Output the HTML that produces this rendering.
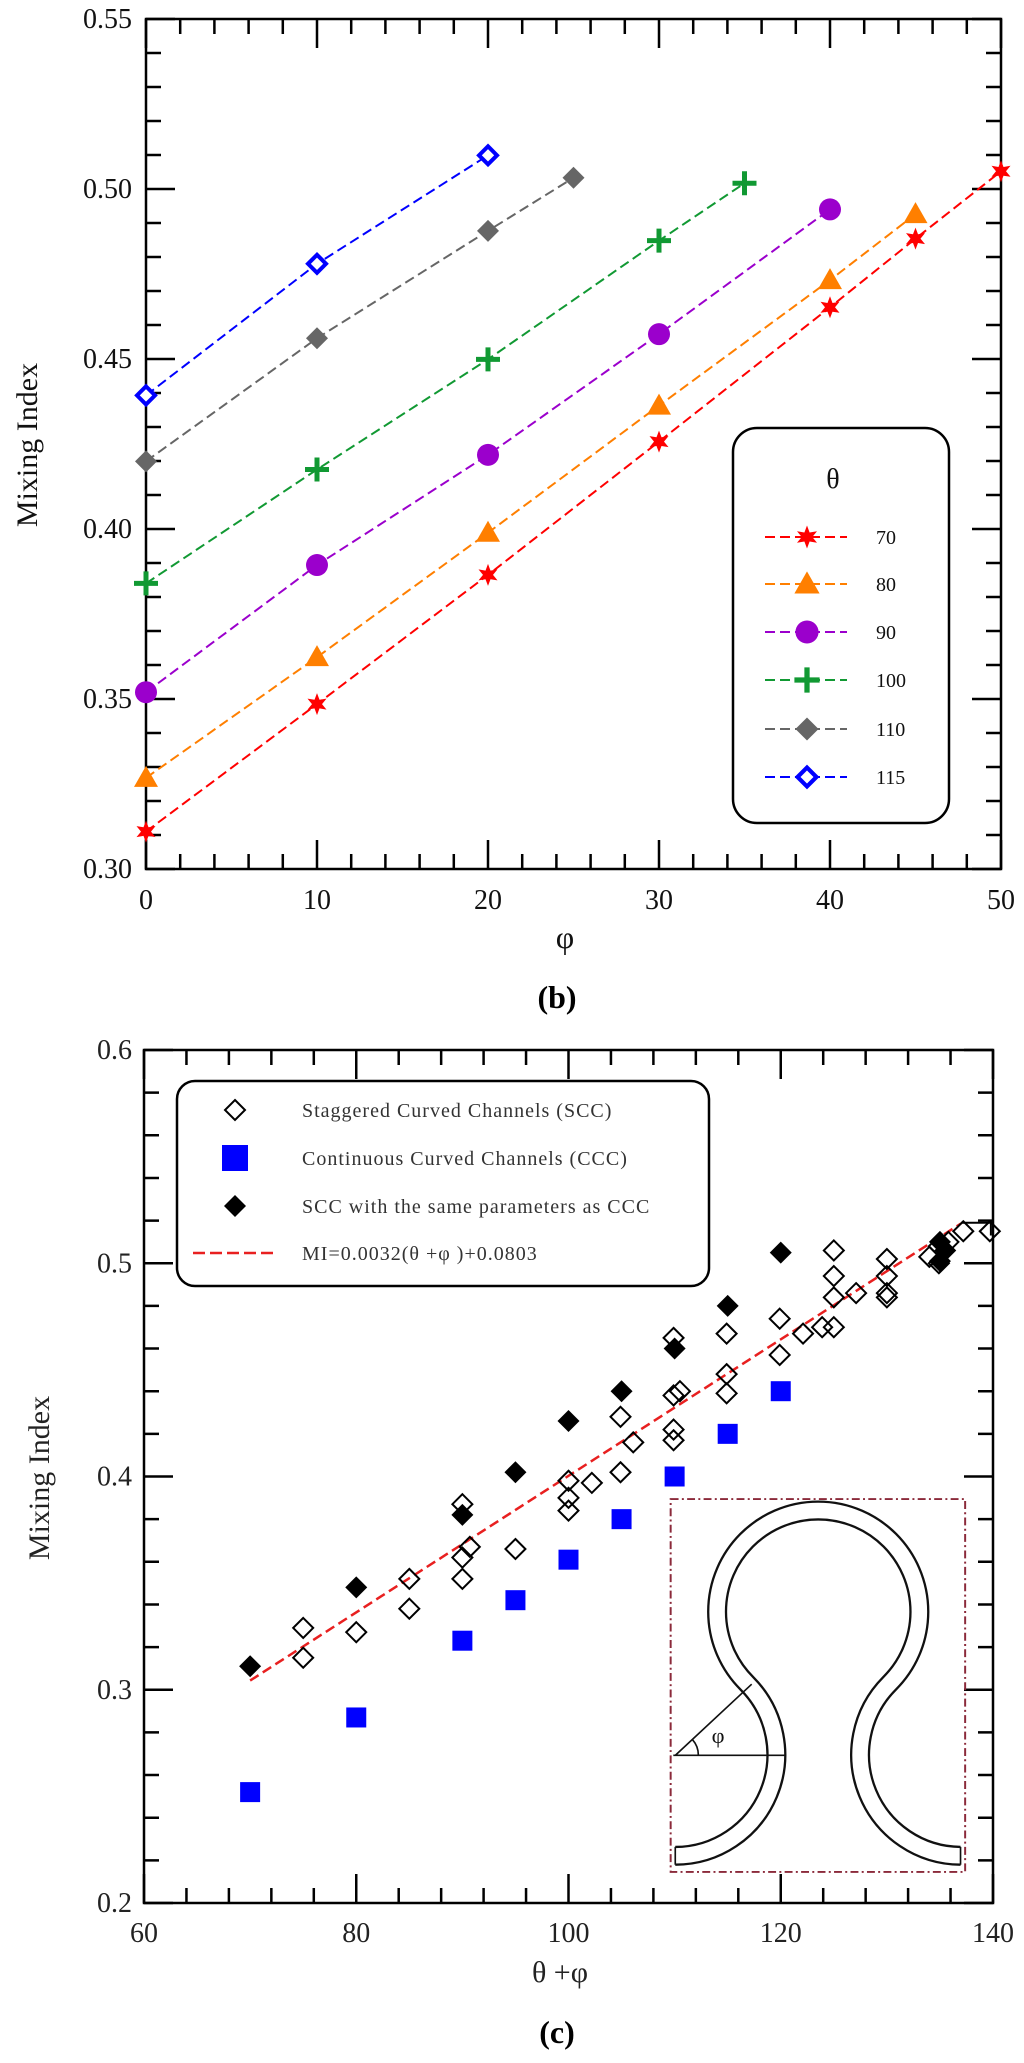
<!DOCTYPE html>
<html><head><meta charset="utf-8"><style>
html,body{margin:0;padding:0;background:#fff;}
svg{display:block;font-family:"Liberation Serif",serif;}
</style></head><body>
<svg id="svg" width="1024" height="2063" viewBox="0 0 1024 2063" xmlns="http://www.w3.org/2000/svg">
<g id="chartB"></g>
<g id="chartC"></g>
</svg>
<script>
// ---- Chart (b) data ----
const phiB = [0,10,20,30,40,45,50];
const s70 = [0.311,0.3485,0.3865,0.4257,0.4652,0.4854,0.5052];
const phi80 = [0,10,20,30,40,45];
const s80 = [0.3268,0.3623,0.3989,0.4363,0.4732,0.4926];
const phi90 = [0,10,20,30,40];
const s90 = [0.352,0.3894,0.4218,0.4573,0.494];
const phi100 = [0,10,20,30,35];
const s100 = [0.384,0.4175,0.4499,0.4848,0.5017];
const phi110 = [0,10,20,25];
const s110 = [0.4199,0.4561,0.4877,0.5033];
const phi115 = [0,10,20];
const s115 = [0.4393,0.478,0.5099];
const xTicksB = [0,10,20,30,40,50];
const yTicksB = ["0.30","0.35","0.40","0.45","0.50","0.55"];
const legendB = ["70","80","90","100","110","115"];

// ---- Chart (c) data ----
const sccX = [75,75,80,85,85,90,90,90,90.7,95,100,100,100,102.2,104.9,104.9,106.1,109.9,109.9,110.5,109.9,109.9,114.9,114.9,114.9,119.9,119.9,122.1,123.9,125,125,125,125,127.1,130,130,130,130,134,134.9,135.8,137.2,139.7,134.9];
const sccY = [0.329,0.315,0.327,0.352,0.338,0.387,0.362,0.352,0.367,0.366,0.398,0.390,0.384,0.397,0.428,0.402,0.416,0.465,0.438,0.440,0.422,0.417,0.467,0.448,0.439,0.474,0.457,0.467,0.470,0.506,0.494,0.484,0.470,0.486,0.502,0.494,0.486,0.484,0.503,0.508,0.510,0.515,0.515,0.500];
const cccX = [70,80,90,95,100,105,110,115,120];
const cccY = [0.252,0.287,0.323,0.342,0.361,0.380,0.400,0.420,0.440];
const sameX = [70,80,90,95,100,105,110,115,120,135,135,135.5];
const sameY = [0.311,0.348,0.382,0.402,0.426,0.440,0.460,0.480,0.505,0.510,0.501,0.506];
const fitSlope = 0.0032, fitIntercept = 0.0803, fitRange = [70,137];
const xTicksC = [60,80,100,120,140];
const yTicksC = ["0.2","0.3","0.4","0.5","0.6"];
const legendC = ["Staggered Curved Channels (SCC)","Continuous Curved Channels (CCC)","SCC with the same parameters as CCC","MI=0.0032(θ +φ )+0.0803"];

const NS="http://www.w3.org/2000/svg";
function mk(parent,tag,attrs,text){const e=document.createElementNS(NS,tag);for(const k in attrs)e.setAttribute(k,attrs[k]);if(text!==undefined)e.textContent=text;parent.appendChild(e);return e;}

// ===== Chart (b) =====
const gB=document.getElementById('chartB');
const B={l:146,r:1001,t:19,b:869,x0:0,x1:50,y0:0.30,y1:0.55};
const xB=v=>B.l+(v-B.x0)/(B.x1-B.x0)*(B.r-B.l);
const yB=v=>B.b-(v-B.y0)/(B.y1-B.y0)*(B.b-B.t);
function axesFrame(g,P,xs,ys,xMinorStep,yMinorStep,xMaj,yMaj){
  let d="";
  for(let v=P.x0;v<=P.x1+1e-9;v+=xMinorStep){const X=P.l+(v-P.x0)/(P.x1-P.x0)*(P.r-P.l);const maj=xMaj.some(m=>Math.abs(m-v)<1e-6);const L=maj?29:15;d+=`M${X},${P.b}v${-L}M${X},${P.t}v${L}`;}
  for(let v=P.y0;v<=P.y1+1e-9;v+=yMinorStep){const Y=P.b-(v-P.y0)/(P.y1-P.y0)*(P.b-P.t);const maj=yMaj.some(m=>Math.abs(m-v)<1e-6);const L=maj?29:15;d+=`M${P.l},${Y}h${L}M${P.r},${Y}h${-L}`;}
  const t=mk(g,'path',{d:d,stroke:'#000','stroke-width':2.5,fill:'none'});
  
  
  const f=mk(g,'rect',{x:P.l,y:P.t,width:P.r-P.l,height:P.b-P.t,fill:'none',stroke:'#000','stroke-width':2.5});
  
  
}
axesFrame(gB,B,null,null,2,0.01,xTicksB,yTicksB.map(Number));
xTicksB.forEach(v=>{const t=mk(gB,'text',{x:xB(v),y:909,'font-size':28,'text-anchor':'middle',fill:'#111'},String(v));
  
  });
yTicksB.forEach(s=>{const t=mk(gB,'text',{x:132,y:yB(Number(s))+9,'font-size':28,'text-anchor':'end',fill:'#111'},s);
  
  });
{const t=mk(gB,'text',{x:0,y:0,'font-size':30,'text-anchor':'middle',fill:'#111',transform:`translate(37,445) rotate(-90)`},'Mixing Index');
 
 
 const t2=mk(gB,'text',{x:565,y:948,'font-size':32,'text-anchor':'middle',fill:'#111'},'φ');
 
 
 const t3=mk(gB,'text',{x:557,y:1008,'font-size':32,'font-weight':'bold','text-anchor':'middle',fill:'#000'},'(b)');
 
 }

function marker(g,type,x,y,color,s){
  s=s||1;
  if(type==='star'){let p=[];for(let i=0;i<12;i++){const a=-Math.PI/2+i*Math.PI/6;const r=(i%2?5:11)*s;p.push((x+r*Math.cos(a)).toFixed(1)+','+(y+r*Math.sin(a)).toFixed(1));}return mk(g,'polygon',{points:p.join(' '),fill:color});}
  if(type==='tri')return mk(g,'polygon',{points:`${x},${y-12*s} ${x+12*s},${y+9*s} ${x-12*s},${y+9*s}`,fill:color});
  if(type==='circle')return mk(g,'circle',{cx:x,cy:y,r:11*s,fill:color});
  if(type==='plus')return mk(g,'path',{d:`M${x-12*s},${y}h${24*s}M${x},${y-12*s}v${24*s}`,stroke:color,'stroke-width':5*s,fill:'none'});
  if(type==='diamond')return mk(g,'polygon',{points:`${x},${y-11*s} ${x+11*s},${y} ${x},${y+11*s} ${x-11*s},${y}`,fill:color});
  if(type==='odiamond')return mk(g,'polygon',{points:`${x},${y-9*s} ${x+9*s},${y} ${x},${y+9*s} ${x-9*s},${y}`,fill:'#fff',stroke:color,'stroke-width':4*s});
}
const seriesB=[
 {name:'70',xs:phiB,ys:s70,c:'#ff0000',m:'star'},
 {name:'80',xs:phi80,ys:s80,c:'#ff7f00',m:'tri'},
 {name:'90',xs:phi90,ys:s90,c:'#9b00cc',m:'circle'},
 {name:'100',xs:phi100,ys:s100,c:'#119933',m:'plus'},
 {name:'110',xs:phi110,ys:s110,c:'#666666',m:'diamond'},
 {name:'115',xs:phi115,ys:s115,c:'#0000ff',m:'odiamond'}];
seriesB.forEach(S=>{
  const g=mk(gB,'g',{});
  
  
  const pts=S.xs.map((v,i)=>xB(v)+','+yB(S.ys[i])).join(' ');
  const l=mk(g,'polyline',{points:pts,fill:'none',stroke:S.c,'stroke-width':2,'stroke-dasharray':'10,5'});
  
  
  S.xs.forEach((v,i)=>{const m=marker(g,S.m,xB(v),yB(S.ys[i]),S.c);
    
    });
});
// legend b
{const g=mk(gB,'g',{});
 
 
 mk(g,'rect',{x:733,y:428,width:216,height:395,rx:24,fill:'#fff',stroke:'#000','stroke-width':2.5});
 const th=mk(g,'text',{x:833,y:488,'font-size':28,'text-anchor':'middle',fill:'#111'},'θ');
 
 
 const ly=[537,584,632,680,729,777];
 seriesB.forEach((S,i)=>{
   const e=mk(g,'g',{});
   
   
   mk(e,'line',{x1:765,x2:847,y1:ly[i],y2:ly[i],stroke:S.c,'stroke-width':2,'stroke-dasharray':'10,5'});
   marker(e,S.m,807,ly[i],S.c,1.05);
   mk(e,'text',{x:876,y:ly[i]+7,'font-size':20,fill:'#111'},legendB[i]);
 });}

// ===== Chart (c) =====
const gC=document.getElementById('chartC');
const C={l:144,r:993,t:1050,b:1903,x0:60,x1:140,y0:0.2,y1:0.6};
const xC=v=>C.l+(v-C.x0)/(C.x1-C.x0)*(C.r-C.l);
const yC=v=>C.b-(v-C.y0)/(C.y1-C.y0)*(C.b-C.t);
axesFrame(gC,C,null,null,4,0.02,xTicksC,yTicksC.map(Number));
xTicksC.forEach(v=>{const t=mk(gC,'text',{x:xC(v),y:1942,'font-size':28,'text-anchor':'middle',fill:'#222'},String(v));
  
  });
yTicksC.forEach(s=>{const t=mk(gC,'text',{x:132,y:yC(Number(s))+9,'font-size':28,'text-anchor':'end',fill:'#222'},s);
  
  });
{const t=mk(gC,'text',{x:0,y:0,'font-size':30,'text-anchor':'middle',fill:'#222',transform:`translate(49,1478) rotate(-90)`},'Mixing Index');
 
 
 const t2=mk(gC,'text',{x:560,y:1982,'font-size':30,'text-anchor':'middle',fill:'#222'},'θ +φ');
 
 
 const t3=mk(gC,'text',{x:557,y:2043,'font-size':32,'font-weight':'bold','text-anchor':'middle',fill:'#000'},'(c)');
 
 }

// fit line
{const fl=mk(gC,'line',{x1:xC(fitRange[0]),y1:yC(fitSlope*fitRange[0]+fitIntercept),x2:xC(fitRange[1]),y2:yC(fitSlope*fitRange[1]+fitIntercept),stroke:'#e82020','stroke-width':2.5,'stroke-dasharray':'10,5'});
 
 
 const br=mk(gC,'path',{d:`M${xC(137)},${yC(0.519)}H${xC(139.8)}V${yC(0.513)}`,stroke:'#000','stroke-width':2,fill:'none'});
 
 }
// points
{const g=mk(gC,'g',{});
 
 
 sccX.forEach((v,i)=>{const x=xC(v),y=yC(sccY[i]);const m=mk(g,'polygon',{points:`${x},${y-10} ${x+10},${y} ${x},${y+10} ${x-10},${y}`,fill:'none',stroke:'#000','stroke-width':2});
   
   });}
{const g=mk(gC,'g',{});
 
 
 cccX.forEach((v,i)=>{const x=xC(v),y=yC(cccY[i]);const m=mk(g,'rect',{x:x-10,y:y-10,width:20,height:20,fill:'#0000ff'});
   
   });}
{const g=mk(gC,'g',{});
 
 
 sameX.forEach((v,i)=>{const x=xC(v),y=yC(sameY[i]);const m=mk(g,'polygon',{points:`${x},${y-11} ${x+11},${y} ${x},${y+11} ${x-11},${y}`,fill:'#000'});
   
   });}
// legend c
{const g=mk(gC,'g',{});
 
 
 mk(g,'rect',{x:177,y:1081,width:532,height:205,rx:18,fill:'#fff',stroke:'#000','stroke-width':2.5});
 const ly=[1110,1158,1206,1253];
 const e0=mk(g,'polygon',{points:`235,1100 245,1110 235,1120 225,1110`,fill:'none',stroke:'#000','stroke-width':2});
 const e1=mk(g,'rect',{x:222,y:1145,width:26,height:26,fill:'#0000ff'});
 const e2=mk(g,'polygon',{points:`235,1195 246,1206 235,1217 224,1206`,fill:'#000'});
 const e3=mk(g,'line',{x1:193,x2:273,y1:1253,y2:1253,stroke:'#e82020','stroke-width':2.5,'stroke-dasharray':'12,5'});
 [e0,e1,e2,e3].forEach(e=>{});
 legendC.forEach((s,i)=>{const t=mk(g,'text',{x:302,y:ly[i]+7,'font-size':20,'letter-spacing':'1',fill:'#333'},s);
   
   });}
// inset diagram
{const g=mk(gC,'g',{transform:'translate(0,1030) scale(0.6588)'});
 
 
 mk(g,'rect',{x:1018,y:712,width:447,height:566,fill:'none',stroke:'#8b2a3a','stroke-width':3,'stroke-dasharray':'12,5,3,5'});
 const dA='M1025,1267 A167,167 0 0 0 1143.6,982.5 A140,140 0 1 1 1340.4,982.5 A167,167 0 0 0 1458,1267';
 const dB='M1025,1240 A140,140 0 0 0 1124.4,1001.5 A167,167 0 1 1 1359.6,1001.5 A140,140 0 0 0 1458,1240';
 mk(g,'path',{d:dA,fill:'none',stroke:'#111','stroke-width':3.5});
 mk(g,'path',{d:dB,fill:'none',stroke:'#111','stroke-width':3.5});
 mk(g,'path',{d:'M1025,1240V1267M1458,1240V1267M1022,1101H1192M1025,1101L1141,993M1060,1101A35,35 0 0 0 1051,1077',fill:'none',stroke:'#111','stroke-width':2.5});
 const t=mk(g,'text',{x:1090,y:1082,'font-size':34,'text-anchor':'middle',fill:'#111'},'φ');
 
 }
</script>
</body></html>
